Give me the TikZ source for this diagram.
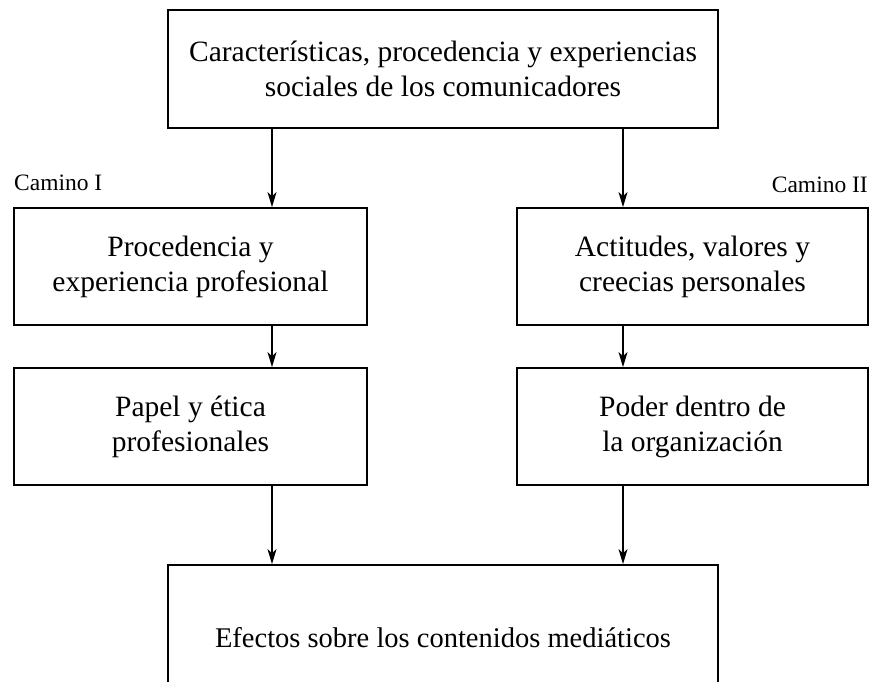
\documentclass[tikz,border=0pt]{standalone}
\usepackage{fontspec}
\setmainfont{Liberation Serif}
\usetikzlibrary{arrows.meta}

\tikzset{
  caja/.style={draw, line width=1.8pt, align=center, inner sep=0pt,
    font=\fontsize{29.5}{35}\selectfont},
  flecha/.style={line width=1.3pt, -{Stealth[length=15pt,width=9pt,inset=4pt]}},
  camino/.style={inner sep=0pt, font=\fontsize{23.5}{26}\selectfont}
}

\begin{document}
\begin{tikzpicture}[x=1pt,y=-1pt]
    \useasboundingbox (0,0) rectangle (870,681);
    \node[caja, minimum width=550pt, minimum height=118pt] (origen) at (443,69)
        {Características, procedencia y experiencias\\sociales de los comunicadores};
    \node[caja, minimum width=353pt, minimum height=117pt] (prof) at (190.5,266.5)
        {Procedencia y\\experiencia profesional};
    \node[caja, minimum width=351pt, minimum height=117pt] (actit) at (692.5,266.5)
        {Actitudes, valores y\\creecias personales};
    \node[caja, minimum width=353pt, minimum height=117pt] (papel) at (190.5,426.5)
        {Papel y ética\\profesionales};
    \node[caja, minimum width=351pt, minimum height=117pt] (poder) at (692.5,426.5)
        {Poder dentro de\\la organización};
    \node[caja, minimum width=550pt, minimum height=146pt, font=\fontsize{28.5}{34}\selectfont] (efectos) at (443,638)
        {Efectos sobre los contenidos mediáticos};
    \node[camino, anchor=base west] (caminoI) at (14,190) {Camino I};
    \node[camino, anchor=base east] (caminoII) at (868,192) {Camino II};
    % lineas de los dos caminos
    \coordinate (izq) at (272,0);
    \coordinate (der) at (623,0);
    \draw[flecha] (origen.south -| izq) -- (prof.north -| izq);
    \draw[flecha] (prof.south -| izq) -- (papel.north -| izq);
    \draw[flecha] (papel.south -| izq) -- (efectos.north -| izq);
    \draw[flecha] (origen.south -| der) -- (actit.north -| der);
    \draw[flecha] (actit.south -| der) -- (poder.north -| der);
    \draw[flecha] (poder.south -| der) -- (efectos.north -| der);
\end{tikzpicture}
\end{document}
